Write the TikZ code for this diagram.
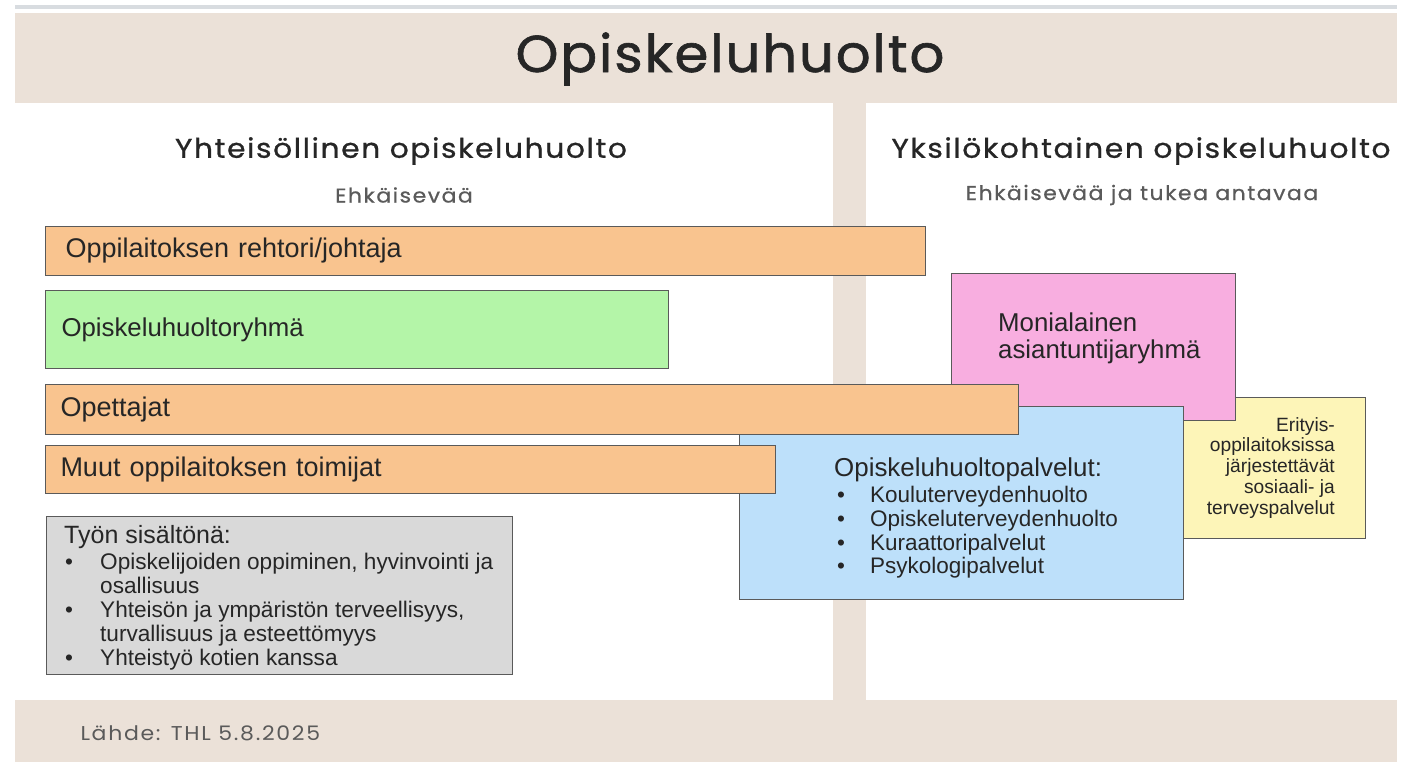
\documentclass[tikz,border=0pt]{standalone}
\usepackage{fontspec}
\setmainfont{Liberation Sans}
\newfontfamily\titlefont[FakeStretch=1.05,LetterSpace=3.5,FakeBold=1.2]{Poppins}
\newfontfamily\headfont[FakeStretch=1.1,LetterSpace=6,FakeBold=0.8]{Poppins}
\newfontfamily\subfont[FakeStretch=1.1,LetterSpace=7.5,FakeBold=0.6]{Poppins}
\newfontfamily\srcfont[FakeStretch=1.1,LetterSpace=8.5]{Poppins}
\definecolor{beige}{HTML}{EBE1D8}
\definecolor{topline}{HTML}{D8DCE0}
\definecolor{orangebox}{HTML}{F9C48F}
\definecolor{greenbox}{HTML}{B4F5A8}
\definecolor{pinkbox}{HTML}{F8AEE0}
\definecolor{bluebox}{HTML}{BDE0FA}
\definecolor{yellowbox}{HTML}{FDF5B8}
\definecolor{graybox}{HTML}{D9D9D9}
\definecolor{edge}{HTML}{5A5A5A}
\definecolor{txt}{HTML}{262626}
\definecolor{subtxt}{HTML}{5A5A5A}
\tikzset{
  band/.style={fill=beige, draw=none},
  box/.style={draw=edge, line width=1pt, anchor=north west, inner ysep=0pt, align=left, text=txt, font=\fontsize{27}{30}\selectfont},
  plain/.style={anchor=north west, align=left, text=txt, inner sep=0pt},
}
\begin{document}
\begin{tikzpicture}[x=1pt,y=-1pt]
\useasboundingbox (0,0) rectangle (1407,765);
\fill[white] (0,0) rectangle (1407,765);
% bands
\fill[topline] (15,5) rectangle (1397,9);
\fill[band] (15,13) rectangle (1397,103);
\fill[band] (833,103) rectangle (866,700);
\fill[band] (15,700) rectangle (1397,762);
\node[font=\titlefont\fontsize{52}{60}\selectfont, text=txt] (title) at (730,59) {Opiskeluhuolto};
\node[font=\headfont\fontsize{27}{32}\selectfont, text=txt] (lefthead) at (401,151) {Yhteisöllinen opiskeluhuolto};
\node[font=\subfont\fontsize{20}{24}\selectfont, text=subtxt] (leftsub) at (404,195) {Ehkäisevää};
\node[font=\headfont\fontsize{27}{32}\selectfont, text=txt] (righthead) at (1141,151) {Yksilökohtainen opiskeluhuolto};
\node[font=\subfont\fontsize{20}{24}\selectfont, text=subtxt] (rightsub) at (1142,195) {Ehkäisevää ja tukea antavaa};
\node[font=\srcfont\fontsize{20}{24}\selectfont, text=subtxt, anchor=west] (source) at (77,733) {Lähde: THL 5.8.2025};
% boxes
\node[box, fill=orangebox, inner xsep=20pt, text width=840pt, minimum height=49pt] (rehtori) at (45,226) {Oppilaitoksen rehtori/johtaja};
\node[box, fill=greenbox, inner xsep=16pt, text width=591pt, minimum height=78pt, font=\fontsize{25.8}{30}\selectfont] (ryhma) at (45,290) {Opiskeluhuoltoryhmä};
\node[box, fill=yellowbox, minimum width=182pt, minimum height=141pt] (erityis) at (1183,397) {};
\node[plain, anchor=north east, align=right, font=\fontsize{19.2}{20.8}\selectfont] (erityistext) at (1335,417) {Erityis-\\oppilaitoksissa\\järjestettävät\\sosiaali- ja\\terveyspalvelut};
\node[box, fill=pinkbox, minimum width=284pt, minimum height=147pt] (moni) at (951,273) {};
\node[plain, font=\fontsize{25.8}{27}\selectfont] (monitext) at (998,313) {Monialainen\\asiantuntijaryhmä};
\node[box, fill=bluebox, minimum width=444pt, minimum height=193pt] (palvelut) at (739,406) {};
\node[plain, font=\fontsize{22.5}{23.7}\selectfont] (palveluttext) at (834,458) {{\fontsize{25.9}{27}\selectfont Opiskeluhuoltopalvelut:}\\[2pt]
\makebox[36pt][l]{\hspace{3pt}\textbullet}Kouluterveydenhuolto\\
\makebox[36pt][l]{\hspace{3pt}\textbullet}Opiskeluterveydenhuolto\\
\makebox[36pt][l]{\hspace{3pt}\textbullet}Kuraattoripalvelut\\
\makebox[36pt][l]{\hspace{3pt}\textbullet}Psykologipalvelut};
\node[box, fill=orangebox, inner xsep=15pt, text width=943pt, minimum height=50pt] (opettajat) at (45,384) {Opettajat};
\node[box, fill=orangebox, inner xsep=15pt, text width=700pt, minimum height=48pt] (muut) at (45,445) {Muut oppilaitoksen toimijat};
\node[box, fill=graybox, minimum width=466pt, minimum height=158pt] (tyon) at (46,516) {};
\node[plain, font=\fontsize{22.6}{24}\selectfont] (tyontext) at (64,525) {{\fontsize{25}{26}\selectfont Työn sisältönä:}\\[2.5pt]
\makebox[36pt][l]{\hspace{1pt}\textbullet}Opiskelijoiden oppiminen, hyvinvointi ja\\
\makebox[36pt][l]{}osallisuus\\
\makebox[36pt][l]{\hspace{1pt}\textbullet}Yhteisön ja ympäristön terveellisyys,\\
\makebox[36pt][l]{}turvallisuus ja esteettömyys\\
\makebox[36pt][l]{\hspace{1pt}\textbullet}Yhteistyö kotien kanssa};
\end{tikzpicture}
\end{document}
